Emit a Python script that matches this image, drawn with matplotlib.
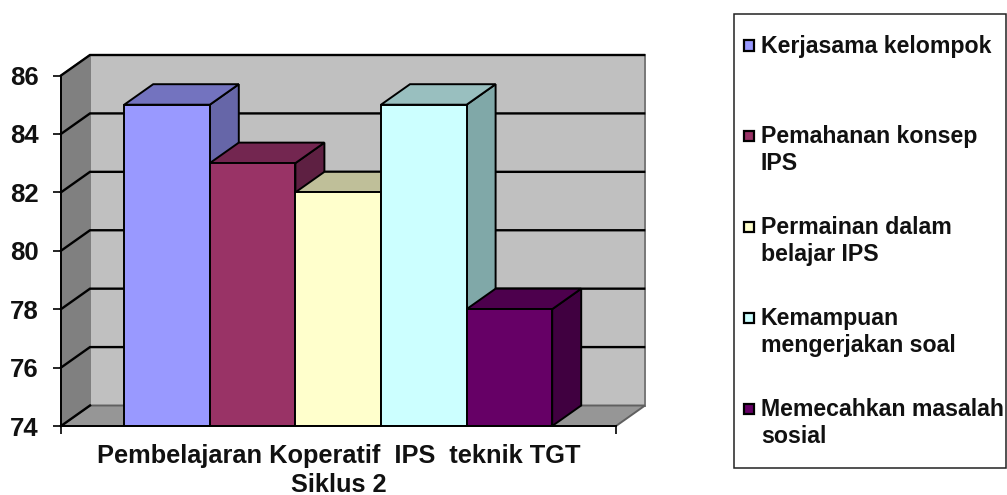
import matplotlib
matplotlib.use("Agg")
import matplotlib.pyplot as plt
from matplotlib.patches import Polygon, Rectangle

plt.rcParams['font.family'] = ['Liberation Sans', 'DejaVu Sans']

categories = ["Kerjasama kelompok", "Pemahanan konsep\nIPS", "Permainan dalam\nbelajar IPS",
              "Kemampuan\nmengerjakan soal", "Memecahkan masalah\nsosial"]
values = [85, 83, 82, 85, 78]
front_colors = ["#9999FF", "#993366", "#FFFFCC", "#CCFFFF", "#660066"]
top_colors = ["#7373BF", "#732650", "#BFBF99", "#99BFBF", "#4D004D"]
side_colors = ["#6666A8", "#5E2042", "#A8A886", "#80A8A8", "#400040"]
yticks = [74, 76, 78, 80, 82, 84, 86]
xlabel_lines = ["Pembelajaran Koperatif  IPS  teknik TGT", "Siklus 2"]

W, H = 1007, 495
fig = plt.figure(figsize=(W / 100, H / 100), dpi=100, facecolor="white")
L, R, T, B = 61, 616, 75.5, 426
ax = fig.add_axes([L / W, 1 - B / H, (R - L) / W, (B - T) / H])
unit = 85.6
ax.set_xlim((L - 167) / unit, (R - 167) / unit)
ax.set_ylim(74, 86)
ax.patch.set_alpha(0)
for s in ax.spines.values():
    s.set_visible(False)
dx = 29 / unit
dy = 20.5 / ((B - T) / 12)
x0, x1 = ax.get_xlim()
y0, y1 = ax.get_ylim()
EDGE = "#000000"
LW = 1.4

def poly(pts, fc, z, ec=EDGE, lw=LW):
    ax.add_patch(Polygon(pts, closed=True, facecolor=fc, edgecolor=ec, linewidth=lw,
                         zorder=z, clip_on=False, joinstyle="miter"))

# walls
poly([(x0 + dx, y0 + dy), (x1 + dx, y0 + dy), (x1 + dx, y1 + dy), (x0 + dx, y1 + dy)], "#C0C0C0", 1, ec="#787878")
poly([(x0, y0), (x0 + dx, y0 + dy), (x0 + dx, y1 + dy), (x0, y1)], "#808080", 1, ec="#808080")
poly([(x0, y0), (x1, y0), (x1 + dx, y0 + dy), (x0 + dx, y0 + dy)], "#969696", 1.5, ec="#606060")

# gridlines
for t in yticks:
    ax.plot([x0, x0 + dx] + ([x1 + dx - 0.01] if t > y0 else []),
            [t, t + dy] + ([t + dy] if t > y0 else []), color="black", lw=1.7, zorder=2,
            clip_on=False, solid_joinstyle="miter")

# bars
for i, (v, fc, tc, sc) in enumerate(zip(values, front_colors, top_colors, side_colors)):
    l, r = i - 0.5, i + 0.5
    poly([(r, y0), (r + dx, y0 + dy), (r + dx, v + dy), (r, v)], sc, 3 + i)
    poly([(l, v), (r, v), (r + dx, v + dy), (l + dx, v + dy)], tc, 3 + i)
    ax.bar(i, v - y0, bottom=y0, width=1.0, color=fc, edgecolor=EDGE, linewidth=LW, zorder=3.5 + i)

# axes
ax.set_yticks(yticks)
ax.set_yticklabels([str(t) for t in yticks], fontsize=18.5, fontweight="bold", color="#111111")
ax.set_xticks([x0, x1])
ax.set_xticklabels(["", ""])
ax.tick_params(axis="y", length=6, width=1.2, pad=9.9)
ax.tick_params(axis="x", length=6, width=1.2)
ax.plot([x0, x1], [y0, y0], color="black", lw=1.4, zorder=20, clip_on=False)
ax.plot([x0, x0], [y0, y1], color="black", lw=1.4, zorder=20, clip_on=False)
for line, y in zip(xlabel_lines, [456, 485]):
    fig.text(339 / W, 1 - y / H, line, ha="center", va="center", fontsize=18.3,
             fontweight="bold", color="#111111")

# legend box
fig.add_artist(Rectangle((734 / W, 1 - 468 / H), (1006 - 734) / W, (468 - 14) / H, transform=fig.transFigure,
                         facecolor="white", edgecolor="#222222", linewidth=1.1))
ys = [46, 136, 227, 318, 409]
for lab, fc, y in zip(categories, front_colors, ys):
    fig.add_artist(Rectangle((743.5 / W, 1 - (y + 5) / H), 10.5 / W, 10.5 / H, transform=fig.transFigure,
                             facecolor=fc, edgecolor="black", linewidth=1.6))
    fig.text(761 / W, 1 - (y - 10.5) / H, lab, ha="left", va="top", fontsize=16.65, fontweight="bold",
             linespacing=1.2, color="#111111")

fig.savefig("out.png", dpi=100)
